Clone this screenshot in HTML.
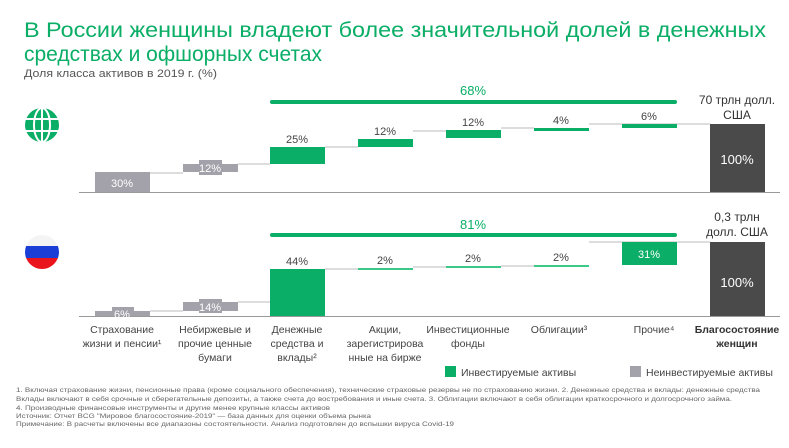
<!DOCTYPE html>
<html><head><meta charset="utf-8"><style>
html,body{margin:0;padding:0;background:#fff;}
svg text{font-family:"Liberation Sans","DejaVu Sans",sans-serif;}
</style></head><body>
<svg width="789" height="443" viewBox="0 0 789 443" xmlns="http://www.w3.org/2000/svg">
<text x="24" y="37" font-size="21" fill="#0aae66" textLength="742" lengthAdjust="spacingAndGlyphs">В России женщины владеют более значительной долей в денежных</text>
<text x="24" y="61" font-size="21" fill="#0aae66" textLength="298" lengthAdjust="spacingAndGlyphs">средствах и офшорных счетах</text>
<text x="24" y="77" font-size="11" fill="#555" textLength="193" lengthAdjust="spacingAndGlyphs">Доля класса активов в 2019 г. (%)</text>

<g transform="translate(42,125)" fill="none" stroke="#0aae66">
<circle r="17" fill="#0aae66" stroke="none"/>
<g stroke="#fff" stroke-width="2">
<line x1="-17" y1="-6" x2="17" y2="-6"/><line x1="-17" y1="6" x2="17" y2="6"/>
<line x1="0" y1="-17" x2="0" y2="17"/>
<ellipse rx="8" ry="17"/>
</g></g>
<g>
<clipPath id="c"><circle cx="42" cy="252" r="17"/></clipPath>
<g clip-path="url(#c)">
<rect x="25" y="235" width="34" height="12" fill="#f4f4f4"/>
<rect x="25" y="246" width="34" height="12" fill="#1b3fd6"/>
<rect x="25" y="258" width="34" height="12" fill="#e9141c"/>
</g></g>

<g stroke="#ddd" stroke-width="2">
<line x1="150" y1="173" x2="183" y2="173"/><line x1="238" y1="164" x2="270" y2="164"/>
<line x1="325" y1="147" x2="358" y2="147"/><line x1="413" y1="131" x2="446" y2="131"/>
<line x1="501" y1="128" x2="534" y2="128"/><line x1="589" y1="124" x2="710" y2="124"/>
</g>
<line x1="79" y1="192.5" x2="780" y2="192.5" stroke="#999" stroke-width="1"/>
<rect x="95" y="172" width="55" height="20" fill="#a3a1aa"/>
<text x="122" y="187" font-size="11" fill="#fff" text-anchor="middle">30%</text>
<rect x="183" y="164" width="55" height="8" fill="#a3a1aa"/>
<rect x="199" y="160" width="23" height="15" fill="#a3a1aa"/>
<text x="210" y="172" font-size="11" fill="#fff" text-anchor="middle">12%</text>
<rect x="270" y="147" width="55" height="17" fill="#0aae66"/>
<text x="297" y="143" font-size="11" fill="#444" text-anchor="middle">25%</text>
<rect x="358" y="139" width="55" height="8" fill="#0aae66"/>
<text x="385" y="135" font-size="11" fill="#444" text-anchor="middle">12%</text>
<rect x="446" y="130" width="55" height="8" fill="#0aae66"/>
<text x="473" y="126" font-size="11" fill="#444" text-anchor="middle">12%</text>
<rect x="534" y="128" width="55" height="3" fill="#0aae66"/>
<text x="561" y="124" font-size="11" fill="#444" text-anchor="middle">4%</text>
<rect x="622" y="124" width="55" height="4" fill="#0aae66"/>
<text x="649" y="120" font-size="11" fill="#444" text-anchor="middle">6%</text>
<rect x="710" y="124" width="55" height="68" fill="#4a4a4a"/>
<text x="737" y="164" font-size="13" fill="#fff" text-anchor="middle">100%</text>
<text x="737" y="104" font-size="12" fill="#333" text-anchor="middle">70 трлн долл.</text>
<text x="737" y="119" font-size="12" fill="#333" text-anchor="middle">США</text>
<rect x="270" y="100" width="407" height="4" rx="2" fill="#0aae66"/>
<text x="473" y="95" font-size="13" fill="#0aae66" text-anchor="middle">68%</text>

<g stroke="#ddd" stroke-width="2">
<line x1="150" y1="311" x2="183" y2="311"/><line x1="238" y1="302" x2="270" y2="302"/>
<line x1="325" y1="269" x2="358" y2="269"/><line x1="413" y1="267" x2="446" y2="267"/>
<line x1="501" y1="266" x2="534" y2="266"/><line x1="589" y1="242" x2="710" y2="242"/>
</g>
<line x1="79" y1="316.5" x2="780" y2="316.5" stroke="#999" stroke-width="1"/>
<rect x="95" y="311" width="55" height="5" fill="#a3a1aa"/>
<rect x="112" y="307" width="22" height="9" fill="#a3a1aa"/>
<text x="122" y="318" font-size="11" fill="#fff" text-anchor="middle">6%</text>
<rect x="183" y="302" width="55" height="9" fill="#a3a1aa"/>
<rect x="199" y="299" width="23" height="14" fill="#a3a1aa"/>
<text x="210" y="311" font-size="11" fill="#fff" text-anchor="middle">14%</text>
<rect x="270" y="269" width="55" height="47" fill="#0aae66"/>
<text x="297" y="265" font-size="11" fill="#444" text-anchor="middle">44%</text>
<rect x="358" y="268" width="55" height="2" fill="#3ac986"/>
<text x="385" y="264" font-size="11" fill="#444" text-anchor="middle">2%</text>
<rect x="446" y="266" width="55" height="2" fill="#3ac986"/>
<text x="473" y="262" font-size="11" fill="#444" text-anchor="middle">2%</text>
<rect x="534" y="265" width="55" height="2" fill="#3ac986"/>
<text x="561" y="261" font-size="11" fill="#444" text-anchor="middle">2%</text>
<rect x="622" y="242" width="55" height="23" fill="#0aae66"/>
<text x="649" y="258" font-size="11" fill="#fff" text-anchor="middle">31%</text>
<rect x="710" y="242" width="55" height="74" fill="#4a4a4a"/>
<text x="737" y="287" font-size="13" fill="#fff" text-anchor="middle">100%</text>
<text x="737" y="221" font-size="12" fill="#333" text-anchor="middle">0,3 трлн</text>
<text x="737" y="236" font-size="12" fill="#333" text-anchor="middle">долл. США</text>
<rect x="270" y="233" width="407" height="4" rx="2" fill="#0aae66"/>
<text x="473" y="229" font-size="13" fill="#0aae66" text-anchor="middle">81%</text>

<g font-size="10.5" fill="#444" text-anchor="middle">
<text x="122" y="333">Страхование</text><text x="122" y="347">жизни и пенсии¹</text>
<text x="215" y="333">Небиржевые и</text><text x="215" y="347">прочие ценные</text><text x="215" y="361">бумаги</text>
<text x="297" y="333">Денежные</text><text x="297" y="347">средства и</text><text x="297" y="361">вклады²</text>
<text x="385" y="333">Акции,</text><text x="385" y="347">зарегистрирова</text><text x="385" y="361">нные на бирже</text>
<text x="468" y="333">Инвестиционные</text><text x="468" y="347">фонды</text>
<text x="559" y="333">Облигации³</text>
<text x="654" y="333">Прочие⁴</text>
<text x="737" y="333" font-weight="bold" fill="#333">Благосостояние</text><text x="737" y="347" font-weight="bold" fill="#333">женщин</text>
</g>
<rect x="445" y="366" width="11" height="11" fill="#0aae66"/>
<text x="461" y="376" font-size="10.5" fill="#444">Инвестируемые активы</text>
<rect x="630" y="366" width="11" height="11" fill="#a3a1aa"/>
<text x="646" y="376" font-size="10.5" fill="#444">Неинвестируемые активы</text>

<g font-size="6.5" fill="#666">
<text x="16" y="392" textLength="744" lengthAdjust="spacingAndGlyphs">1. Включая страхование жизни, пенсионные права (кроме социального обеспечения), технические страховые резервы не по страхованию жизни. 2. Денежные средства и вклады: денежные средства</text>
<text x="16" y="401" textLength="716" lengthAdjust="spacingAndGlyphs">Вклады включают в себя срочные и сберегательные депозиты, а также счета до востребования и иные счета.  3. Облигации включают в себя облигации краткосрочного и долгосрочного займа.</text>
<text x="16" y="410" textLength="314" lengthAdjust="spacingAndGlyphs">4. Производные финансовые инструменты и другие менее крупные классы активов</text>
<text x="16" y="418" textLength="355" lengthAdjust="spacingAndGlyphs">Источник: Отчет BCG "Мировое благосостояние-2019" — база данных для оценки объема рынка</text>
<text x="16" y="426" textLength="438" lengthAdjust="spacingAndGlyphs">Примечание: В расчеты включены все диапазоны состоятельности. Анализ подготовлен до вспышки вируса Covid-19</text>
</g>
</svg>
</body></html>
